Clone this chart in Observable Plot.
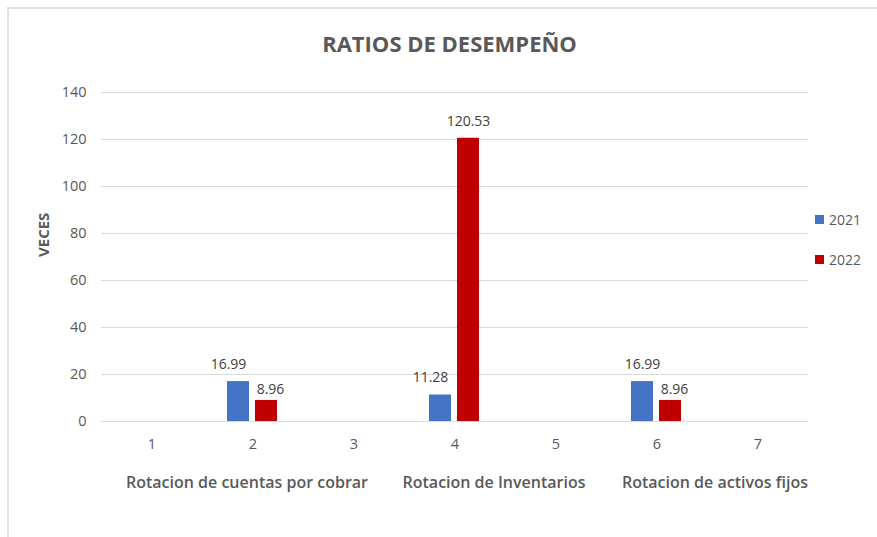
<!DOCTYPE html>
<html><head><meta charset="utf-8">
<script src="https://cdn.jsdelivr.net/npm/d3@7"></script>
<script src="https://cdn.jsdelivr.net/npm/@observablehq/plot@0.6"></script>
<style>
body{margin:0;background:#fff;font-family:"Open Sans",sans-serif;}
#wrap{position:relative;width:877px;height:537px;overflow:hidden;background:#fff;}
#frame{position:absolute;left:7px;top:7px;width:900px;height:600px;border-left:2px solid #e2e2e2;border-top:2px solid #e2e2e2;}
#title{position:absolute;left:22px;top:0;width:855px;height:70px;text-align:center;line-height:86px;font-size:22px;font-weight:700;color:#595959;}
#chart{position:absolute;left:0;top:70px;}
#legend{position:absolute;left:815px;top:209px;font-size:14px;color:#595959;}
#legend .item{display:flex;align-items:center;height:20px;margin-bottom:20px;}
#legend .sw{width:9px;height:9px;margin-right:5px;}
</style></head>
<body>
<div id="wrap">
  <div id="frame"></div>
  <div id="title">RATIOS DE DESEMPEÑO</div>
  <div id="chart"></div>
  <div id="legend"></div>
</div>
<script>
const categories = [1, 2, 3, 4, 5, 6, 7];
const years = ["2021", "2022"];
const values2021 = [null, 16.99, null, 11.28, null, 16.99, null];
const values2022 = [null, 8.96, null, 120.53, null, 8.96, null];
const groupLabels = [
  {cat: 2, label: "Rotacion de cuentas por cobrar"},
  {cat: 4, label: "Rotacion de Inventarios"},
  {cat: 6, label: "Rotacion de activos fijos"}
];
const yTicks = [0, 20, 40, 60, 80, 100, 120, 140];
const colors = ["#4472C4", "#C00000"];

const data = [];
categories.forEach((c, i) => {
  if (values2021[i] != null) data.push({cat: c, year: "2021", value: values2021[i]});
  if (values2022[i] != null) data.push({cat: c, year: "2022", value: values2022[i]});
});
const gridData = categories.flatMap(c => yTicks.map(v => ({cat: c, v})));
const fmt = d => d.value.toFixed(2);

// label offsets per category (Excel-like placement)
const blueDx = {2: -10, 4: -10, 6: 0};
const groupDx = {2: -6, 4: 39, 6: 58};

const marks = [
  Plot.ruleY(gridData, {fx: "cat", y: "v", stroke: "#d9d9d9", strokeWidth: 1}),
  Plot.barY(data, {fx: "cat", x: "year", y: "value", fill: "year"}),
  Plot.axisY({ticks: yTicks, tickSize: 0, tickPadding: 15, fontSize: 14.5, fill: "#595959", label: null}),
  Plot.axisFx({anchor: "bottom", tickSize: 0, tickPadding: 17, fontSize: 14.5, fill: "#595959", label: null})
];
// blue labels
[2, 4, 6].forEach(c => {
  marks.push(Plot.text(data.filter(d => d.year === "2021" && d.cat === c),
    {fx: "cat", x: "year", y: "value", text: fmt, dy: -17, dx: blueDx[c], lineAnchor: "middle",
     fontSize: 14, fill: "#404040"}));
});
// red labels
marks.push(Plot.text(data.filter(d => d.year === "2022" && d.value < 50),
  {fx: "cat", x: "year", y: "value", text: fmt, dy: -11, dx: 4, lineAnchor: "middle", fontSize: 14, fill: "#404040"}));
marks.push(Plot.text(data.filter(d => d.year === "2022" && d.value >= 50),
  {fx: "cat", x: "year", y: "value", text: fmt, dy: -17, dx: 0, lineAnchor: "middle", fontSize: 14, fill: "#404040"}));
// group labels
groupLabels.forEach(g => {
  marks.push(Plot.text([g], {fx: "cat", text: "label", frameAnchor: "bottom", dy: 61, dx: groupDx[g.cat],
    lineAnchor: "middle", fontSize: 16, fontWeight: 600, fill: "#595959"}));
});
// y-axis title
marks.push(Plot.text(["VECES"], {frameAnchor: "left", dx: -57, rotate: -90, lineAnchor: "middle",
  fontSize: 15, fontWeight: 700, fill: "#595959", facet: "super"}));

const chart = Plot.plot({
  width: 877,
  height: 467,
  marginLeft: 99,
  marginRight: 67,
  marginTop: 22,
  marginBottom: 116,
  style: {fontFamily: "'Open Sans', sans-serif", background: "transparent", overflow: "visible"},
  fx: {domain: categories, padding: 0, label: null},
  x: {domain: years, paddingInner: 0.207, paddingOuter: 0.845, axis: null},
  y: {domain: [0, 140], axis: null},
  color: {domain: years, range: colors},
  marks
});
document.getElementById("chart").appendChild(chart);

const legend = document.getElementById("legend");
years.forEach((y, i) => {
  const it = document.createElement("div");
  it.className = "item";
  it.innerHTML = `<div class="sw" style="background:${colors[i]}"></div><span>${y}</span>`;
  legend.appendChild(it);
});
</script>
</body></html>
